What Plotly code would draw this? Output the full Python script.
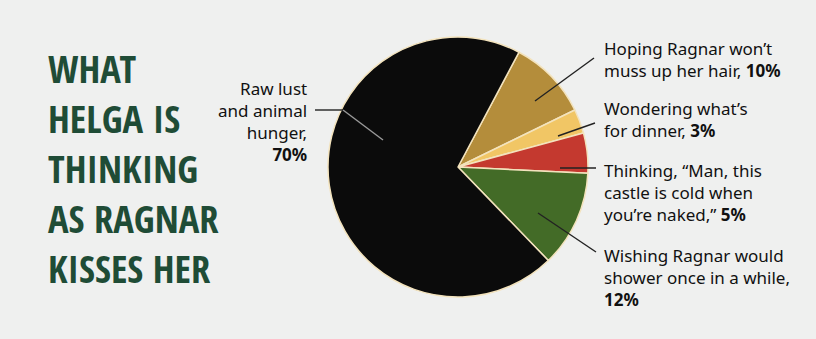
import plotly.graph_objects as go

W, H = 816, 339

# Data
labels = ["Hoping Ragnar won't muss up her hair",
          "Wondering what's for dinner",
          "Thinking, \"Man, this castle is cold when you're naked,\"",
          "Wishing Ragnar would shower once in a while",
          "Raw lust and animal hunger"]
values = [10, 3, 5, 12, 70]
colors = ["#b48d3b", "#f1c665", "#c4392f", "#436b27", "#0b0b0b"]

title_lines = ["WHAT", "HELGA IS", "THINKING", "AS RAGNAR", "KISSES HER"]

def px(x):
    return x / W

def py(y):
    return 1 - y / H

cx, cy, r = 458, 167, 130

fig = go.Figure()
fig.add_trace(go.Pie(
    labels=labels, values=values, sort=False, direction="clockwise",
    rotation=28, textinfo="none", hoverinfo="label+percent",
    marker=dict(colors=colors, line=dict(color="#f3e3bd", width=1.5)),
    domain=dict(x=[px(cx - r), px(cx + r)], y=[py(cy + r), py(cy - r)]),
    showlegend=False,
))

annotations = []
# Title
annotations.append(dict(
    x=px(46), y=py(168), xref="paper", yref="paper",
    xanchor="left", yanchor="middle", align="left", showarrow=False,
    text="<br>".join(title_lines),
    font=dict(family="Open Sans Condensed, Roboto Condensed, sans-serif",
              size=38.5, color="#1f4c36", weight="bold"),
))

lab_font = dict(family="Noto Sans, Lato, sans-serif", size=17, color="#111111")

def label(x, y, text, anchor="left", align="left"):
    annotations.append(dict(
        x=px(x), y=py(y), xref="paper", yref="paper", xanchor=anchor,
        yanchor="top", align=align, showarrow=False, text=text, font=lab_font,
    ))

label(309, 75, "Raw lust<br>and animal<br>hunger,<br><b>%d%%</b>" % values[4], anchor="right", align="right")
label(602, 35, "Hoping Ragnar won\u2019t<br>muss up her hair, <b>%d%%</b>" % values[0])
label(602, 95, "Wondering what\u2019s<br>for dinner, <b>%d%%</b>" % values[1])
label(602, 157, "Thinking, \u201cMan, this<br>castle is cold when<br>you\u2019re naked,\u201d <b>%d%%</b>" % values[2])
label(602, 242, "Wishing Ragnar would<br>shower once in a while,<br><b>%d%%</b>" % values[3])

shapes = []

def seg(x0, y0, x1, y1, color="#222222"):
    shapes.append(dict(type="line", xref="paper", yref="paper",
                       x0=px(x0), y0=py(y0), x1=px(x1), y1=py(y1),
                       line=dict(color=color, width=1.4)))

seg(315, 110, 343, 110)
seg(343, 110, 383, 140, "#9a9a9a")
seg(594, 58, 535, 101)
seg(595, 123, 558, 136)
seg(596, 168, 560, 168)
seg(596, 252, 538, 213)

fig.update_layout(
    width=W, height=H, margin=dict(l=0, r=0, t=0, b=0),
    paper_bgcolor="#eff0ef", plot_bgcolor="#eff0ef",
    annotations=annotations, shapes=shapes,
)

fig.write_html("out.html")
